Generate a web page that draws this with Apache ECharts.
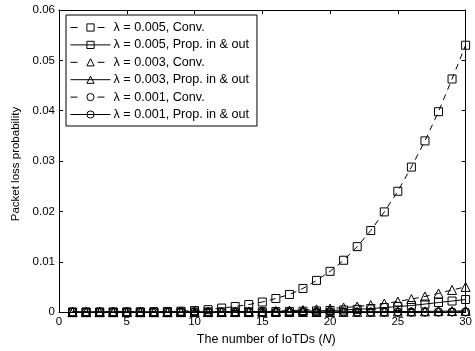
<!DOCTYPE html>
<html>
<head>
<meta charset="utf-8">
<script src="https://cdn.jsdelivr.net/npm/echarts@6/dist/echarts.min.js"></script>
<style>
html,body{margin:0;padding:0;background:#fff;}
#c{width:475px;height:351px;}
</style>
</head>
<body>
<div id="c"></div>
<script>
// Number of IoTDs
var nValues = [1,2,3,4,5,6,7,8,9,10,11,12,13,14,15,16,17,18,19,20,21,22,23,24,25,26,27,28,29,30];
var seriesNames = ['λ = 0.005, Conv.','λ = 0.005, Prop. in & out','λ = 0.003, Conv.','λ = 0.003, Prop. in & out','λ = 0.001, Conv.','λ = 0.001, Prop. in & out'];
var conv005 = [0,0,0,0.00001,0.00002,0.00004,0.00007,0.00011,0.00018,0.0003,0.00048,0.0008,0.0011,0.0015,0.002,0.0027,0.0035,0.0047,0.0063,0.0081,0.0103,0.013,0.0162,0.0199,0.024,0.0288,0.034,0.0398,0.0463,0.053];
var prop005 = [0,0,0,0,0,0,0,0.00001,0.00001,0.00002,0.00003,0.00004,0.00005,0.00006,0.00008,0.0001,0.00013,0.00018,0.00024,0.00032,0.00042,0.00055,0.0007,0.0009,0.0011,0.0013,0.0016,0.0019,0.0022,0.0025];
var conv003 = [0,0,0,0,0,0,0,0,0.00001,0.00002,0.00003,0.00005,0.00008,0.00011,0.00016,0.00022,0.0003,0.0004,0.00055,0.0007,0.0009,0.0011,0.0014,0.0017,0.0021,0.0026,0.0031,0.0037,0.0044,0.005];
var prop003 = [0,0,0,0,0,0,0,0,0,0,0,0,0,0,0,0.00001,0.00001,0.00002,0.00002,0.00003,0.00004,0.00005,0.00006,0.00008,0.0001,0.00012,0.00014,0.00017,0.0002,0.00024];
var conv001 = [0,0,0,0,0,0,0,0,0,0,0,0,0,0,0,0,0,0,0,0.00001,0.00001,0.00001,0.00002,0.00002,0.00003,0.00003,0.00004,0.00005,0.00006,0.00007];
var prop001 = [0,0,0,0,0,0,0,0,0,0,0,0,0,0,0,0,0,0,0,0,0,0,0,0,0,0,0,0,0,0];
var xTicks = [0,5,10,15,20,25,30];
var yTicks = [0,0.01,0.02,0.03,0.04,0.05,0.06];

function pairs(vals){ return nValues.map(function(n,i){ return [n, vals[i]]; }); }

var FONT = 'Liberation Sans';
var dash = [6,5];
function mk(name, vals, symbol, dashed){
  return {
    name: name, type: 'line', data: pairs(vals),
    symbol: symbol, symbolSize: symbol === 'triangle' ? 9 : 8,
    showAllSymbol: true,
    lineStyle: {color:'#000', width:1, type: dashed ? dash : 'solid'},
    itemStyle: {color:'rgba(0,0,0,0)', borderColor:'#000', borderWidth:1},
    emphasis: {disabled:true},
    animation: false
  };
}
var legendData = seriesNames.map(function(nm, i){
  return {name: nm, lineStyle: {width:1, type: (i % 2 === 0) ? [7,20] : 'solid'}};
});

var chart = echarts.init(document.getElementById('c'), null, {renderer:'canvas'});
var axisCommon = {
  type:'value', min:0, max:30, interval:5,
  axisLine:{show:true, onZero:false, lineStyle:{color:'#000', width:1}},
  axisTick:{show:true, inside:true, length:4, lineStyle:{color:'#000'}},
  splitLine:{show:false}
};
chart.setOption({
  backgroundColor:'#fff',
  animation:false,
  textStyle:{fontFamily:FONT},
  grid:{left:59, right:6, top:10, bottom:33, containLabel:false},
  legend:{
    orient:'vertical', left:66, top:15,
    data: legendData,
    backgroundColor:'#fff', borderColor:'#000', borderWidth:1, borderRadius:0,
    padding:[6,8,5,4],
    itemWidth:40, itemHeight:9, itemGap:4.4,
    lineStyle:{width:1},
    itemStyle:{borderWidth:1},
    textStyle:{fontFamily:FONT, fontSize:12.6, lineHeight:12, color:'#000', padding:[0,0,0,-2]},
    selectedMode:false
  },
  xAxis:[
    Object.assign({}, axisCommon, {position:'bottom',
      name:'The number of IoTDs ({i|N})', nameLocation:'middle', nameGap:17,
      nameTextStyle:{fontFamily:FONT, fontSize:12.5, color:'#000', padding:[0,0,0,8], rich:{i:{fontStyle:'italic', fontFamily:FONT, fontSize:12.5, color:'#000'}}},
      axisLabel:{show:true, fontFamily:FONT, fontSize:11.5, color:'#000', margin:4,
        formatter:function(v){ return xTicks.indexOf(v)>=0 ? String(v) : ''; }}}),
    Object.assign({}, axisCommon, {position:'top', axisLabel:{show:false}})
  ],
  yAxis:[
    {type:'value', min:0, max:0.06, interval:0.01, position:'left',
      axisLine:{show:true, onZero:false, lineStyle:{color:'#000', width:1}},
      axisTick:{show:true, inside:true, length:4, lineStyle:{color:'#000'}},
      splitLine:{show:false},
      name:'Packet loss probability', nameLocation:'middle', nameGap:36, nameRotate:90,
      nameTextStyle:{fontFamily:FONT, fontSize:11.5, color:'#000', padding:[0,0,0,-6]},
      axisLabel:{fontFamily:FONT, fontSize:11.5, color:'#000', margin:4,
        formatter:function(v){ var i = yTicks.findIndex(function(t){return Math.abs(t-v)<1e-9;}); return i===0 ? '0' : (i>0 ? yTicks[i].toFixed(2) : ''); }}},
    {type:'value', min:0, max:0.06, interval:0.01, position:'right',
      axisLine:{show:true, onZero:false, lineStyle:{color:'#000', width:1}},
      axisTick:{show:true, inside:true, length:4, lineStyle:{color:'#000'}},
      splitLine:{show:false}, axisLabel:{show:false}}
  ],
  series:[
    mk(seriesNames[0], conv005, 'rect', true),
    mk(seriesNames[1], prop005, 'rect', false),
    mk(seriesNames[2], conv003, 'triangle', true),
    mk(seriesNames[3], prop003, 'triangle', false),
    mk(seriesNames[4], conv001, 'circle', true),
    mk(seriesNames[5], prop001, 'circle', false)
  ]
});
</script>
</body>
</html>
